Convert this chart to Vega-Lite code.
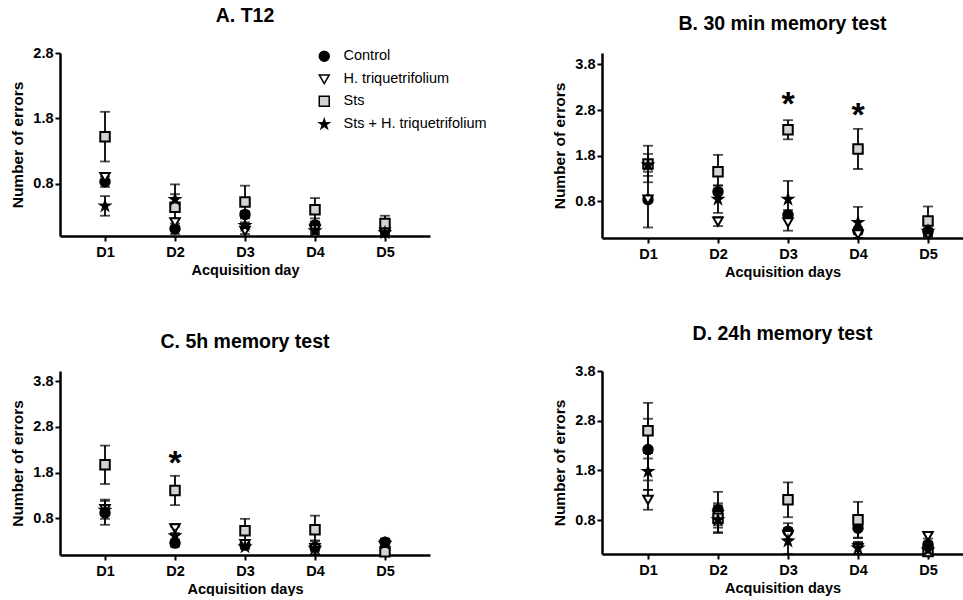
{
  "$schema": "https://vega.github.io/schema/vega-lite/v6.json",
  "background": "white",
  "padding": {"left": 10, "top": 5, "right": 0, "bottom": 0},
  "columns": 2,
  "spacing": {"row": 133, "column": 172},
  "bounds": "flush",
  "resolve": {
    "scale": {"x": "independent", "y": "independent", "shape": "independent", "fill": "independent"},
    "legend": {"shape": "independent", "fill": "independent"}
  },
  "datasets": {
    "means": [
      {"panel": "A", "day": 1, "group": "Control", "mean": 0.83, "err": 0.08},
      {"panel": "A", "day": 1, "group": "H. triquetrifolium", "mean": 0.90, "err": 0.05},
      {"panel": "A", "day": 1, "group": "Sts", "mean": 1.52, "err": 0.38},
      {"panel": "A", "day": 1, "group": "Sts + H. triquetrifolium", "mean": 0.46, "err": 0.15},
      {"panel": "A", "day": 2, "group": "Control", "mean": 0.11, "err": 0.08},
      {"panel": "A", "day": 2, "group": "H. triquetrifolium", "mean": 0.21, "err": 0.06},
      {"panel": "A", "day": 2, "group": "Sts", "mean": 0.44, "err": 0.35},
      {"panel": "A", "day": 2, "group": "Sts + H. triquetrifolium", "mean": 0.56, "err": 0.08},
      {"panel": "A", "day": 3, "group": "Control", "mean": 0.33, "err": 0.05},
      {"panel": "A", "day": 3, "group": "H. triquetrifolium", "mean": 0.08, "err": 0.05},
      {"panel": "A", "day": 3, "group": "Sts", "mean": 0.52, "err": 0.25},
      {"panel": "A", "day": 3, "group": "Sts + H. triquetrifolium", "mean": 0.16, "err": 0.05},
      {"panel": "A", "day": 4, "group": "Control", "mean": 0.17, "err": 0.10},
      {"panel": "A", "day": 4, "group": "H. triquetrifolium", "mean": 0.10, "err": 0.05},
      {"panel": "A", "day": 4, "group": "Sts", "mean": 0.40, "err": 0.18},
      {"panel": "A", "day": 4, "group": "Sts + H. triquetrifolium", "mean": 0.08, "err": 0.05},
      {"panel": "A", "day": 5, "group": "Control", "mean": 0.09, "err": 0.04},
      {"panel": "A", "day": 5, "group": "H. triquetrifolium", "mean": 0.05, "err": 0.03},
      {"panel": "A", "day": 5, "group": "Sts", "mean": 0.19, "err": 0.12},
      {"panel": "A", "day": 5, "group": "Sts + H. triquetrifolium", "mean": 0.05, "err": 0.03},

      {"panel": "B", "day": 1, "group": "Control", "mean": 0.84, "err": 0.61},
      {"panel": "B", "day": 1, "group": "H. triquetrifolium", "mean": 0.84, "err": 0.05},
      {"panel": "B", "day": 1, "group": "Sts", "mean": 1.62, "err": 0.40},
      {"panel": "B", "day": 1, "group": "Sts + H. triquetrifolium", "mean": 1.60, "err": 0.24},
      {"panel": "B", "day": 2, "group": "Control", "mean": 1.01, "err": 0.14},
      {"panel": "B", "day": 2, "group": "H. triquetrifolium", "mean": 0.36, "err": 0.10},
      {"panel": "B", "day": 2, "group": "Sts", "mean": 1.45, "err": 0.37},
      {"panel": "B", "day": 2, "group": "Sts + H. triquetrifolium", "mean": 0.85, "err": 0.30},
      {"panel": "B", "day": 3, "group": "Control", "mean": 0.51, "err": 0.10},
      {"panel": "B", "day": 3, "group": "H. triquetrifolium", "mean": 0.34, "err": 0.18},
      {"panel": "B", "day": 3, "group": "Sts", "mean": 2.37, "err": 0.21},
      {"panel": "B", "day": 3, "group": "Sts + H. triquetrifolium", "mean": 0.85, "err": 0.40},
      {"panel": "B", "day": 4, "group": "Control", "mean": 0.16, "err": 0.08},
      {"panel": "B", "day": 4, "group": "H. triquetrifolium", "mean": 0.08, "err": 0.08},
      {"panel": "B", "day": 4, "group": "Sts", "mean": 1.95, "err": 0.44},
      {"panel": "B", "day": 4, "group": "Sts + H. triquetrifolium", "mean": 0.34, "err": 0.34},
      {"panel": "B", "day": 5, "group": "Control", "mean": 0.14, "err": 0.06},
      {"panel": "B", "day": 5, "group": "H. triquetrifolium", "mean": 0.08, "err": 0.05},
      {"panel": "B", "day": 5, "group": "Sts", "mean": 0.37, "err": 0.32},
      {"panel": "B", "day": 5, "group": "Sts + H. triquetrifolium", "mean": 0.15, "err": 0.06},

      {"panel": "C", "day": 1, "group": "Control", "mean": 0.92, "err": 0.26},
      {"panel": "C", "day": 1, "group": "H. triquetrifolium", "mean": 1.00, "err": 0.21},
      {"panel": "C", "day": 1, "group": "Sts", "mean": 1.97, "err": 0.42},
      {"panel": "C", "day": 1, "group": "Sts + H. triquetrifolium", "mean": 0.98, "err": 0.10},
      {"panel": "C", "day": 2, "group": "Control", "mean": 0.26, "err": 0.08},
      {"panel": "C", "day": 2, "group": "H. triquetrifolium", "mean": 0.58, "err": 0.10},
      {"panel": "C", "day": 2, "group": "Sts", "mean": 1.41, "err": 0.32},
      {"panel": "C", "day": 2, "group": "Sts + H. triquetrifolium", "mean": 0.42, "err": 0.20},
      {"panel": "C", "day": 3, "group": "Control", "mean": 0.22, "err": 0.05},
      {"panel": "C", "day": 3, "group": "H. triquetrifolium", "mean": 0.24, "err": 0.06},
      {"panel": "C", "day": 3, "group": "Sts", "mean": 0.53, "err": 0.26},
      {"panel": "C", "day": 3, "group": "Sts + H. triquetrifolium", "mean": 0.18, "err": 0.05},
      {"panel": "C", "day": 4, "group": "Control", "mean": 0.17, "err": 0.15},
      {"panel": "C", "day": 4, "group": "H. triquetrifolium", "mean": 0.15, "err": 0.06},
      {"panel": "C", "day": 4, "group": "Sts", "mean": 0.55, "err": 0.31},
      {"panel": "C", "day": 4, "group": "Sts + H. triquetrifolium", "mean": 0.15, "err": 0.15},
      {"panel": "C", "day": 5, "group": "Control", "mean": 0.28, "err": 0.08},
      {"panel": "C", "day": 5, "group": "H. triquetrifolium", "mean": 0.22, "err": 0.05},
      {"panel": "C", "day": 5, "group": "Sts", "mean": 0.07, "err": 0.05},
      {"panel": "C", "day": 5, "group": "Sts + H. triquetrifolium", "mean": 0.25, "err": 0.10},

      {"panel": "D", "day": 1, "group": "Control", "mean": 2.22, "err": 0.62},
      {"panel": "D", "day": 1, "group": "H. triquetrifolium", "mean": 1.21, "err": 0.20},
      {"panel": "D", "day": 1, "group": "Sts", "mean": 2.60, "err": 0.56},
      {"panel": "D", "day": 1, "group": "Sts + H. triquetrifolium", "mean": 1.78, "err": 0.37},
      {"panel": "D", "day": 2, "group": "Control", "mean": 1.01, "err": 0.36},
      {"panel": "D", "day": 2, "group": "H. triquetrifolium", "mean": 0.90, "err": 0.20},
      {"panel": "D", "day": 2, "group": "Sts", "mean": 0.84, "err": 0.30},
      {"panel": "D", "day": 2, "group": "Sts + H. triquetrifolium", "mean": 0.81, "err": 0.25},
      {"panel": "D", "day": 3, "group": "Control", "mean": 0.58, "err": 0.16},
      {"panel": "D", "day": 3, "group": "H. triquetrifolium", "mean": 0.50, "err": 0.10},
      {"panel": "D", "day": 3, "group": "Sts", "mean": 1.21, "err": 0.35},
      {"panel": "D", "day": 3, "group": "Sts + H. triquetrifolium", "mean": 0.38, "err": 0.26},
      {"panel": "D", "day": 4, "group": "Control", "mean": 0.64, "err": 0.20},
      {"panel": "D", "day": 4, "group": "H. triquetrifolium", "mean": 0.24, "err": 0.12},
      {"panel": "D", "day": 4, "group": "Sts", "mean": 0.81, "err": 0.36},
      {"panel": "D", "day": 4, "group": "Sts + H. triquetrifolium", "mean": 0.24, "err": 0.12},
      {"panel": "D", "day": 5, "group": "Control", "mean": 0.31, "err": 0.05},
      {"panel": "D", "day": 5, "group": "H. triquetrifolium", "mean": 0.48, "err": 0.05},
      {"panel": "D", "day": 5, "group": "Sts", "mean": 0.17, "err": 0.05},
      {"panel": "D", "day": 5, "group": "Sts + H. triquetrifolium", "mean": 0.20, "err": 0.05}
    ],
    "sig": [
      {"panel": "B", "day": 3, "mean": 3.13, "label": "*"},
      {"panel": "B", "day": 4, "mean": 2.88, "label": "*"},
      {"panel": "C", "day": 2, "mean": 2.21, "label": "*"}
    ]
  },
  "concat": [
    {
      "width": 370, "height": 183,
      "title": {"text": "A. T12"},
      "data": {"name": "means"},
      "transform": [{"filter": "datum.panel === 'A'"}],
      "encoding": {
        "x": {"field": "day", "type": "quantitative", "scale": {"domain": [0.357, 5.643], "nice": false, "zero": false}, "axis": {"values": [1, 2, 3, 4, 5], "labelExpr": "'D' + datum.value", "title": "Acquisition day"}},
        "y": {"field": "mean", "type": "quantitative", "scale": {"domain": [0, 2.8], "nice": false, "zero": false}, "axis": {"values": [0.8, 1.8, 2.8], "format": ".1f", "title": "Number of errors"}}
      },
      "layer": [
        {"mark": {"type": "errorbar", "ticks": true, "color": "black", "thickness": 1.8, "size": 10}, "encoding": {"yError": {"field": "err"}}},
        {"mark": {"type": "point", "filled": true, "stroke": "black", "strokeWidth": 2, "size": 90, "opacity": 1},
         "encoding": {
           "shape": {"field": "group", "type": "nominal", "scale": {"domain": ["Control", "H. triquetrifolium", "Sts", "Sts + H. triquetrifolium"], "range": ["circle", "triangle-down", "square", "M0,-1L0.2245,-0.309L0.951,-0.309L0.363,0.118L0.588,0.809L0,0.382L-0.588,0.809L-0.363,0.118L-0.951,-0.309L-0.2245,-0.309Z"]},
             "legend": {"orient": "none", "legendX": 257, "legendY": -4, "title": null, "padding": 0, "labelFont": "Liberation Sans", "labelFontSize": 14.5, "labelFontWeight": "normal", "labelColor": "black", "rowPadding": 6, "labelOffset": 12, "symbolSize": 100,
               "encode": {"symbols": {"update": {"stroke": {"value": "black"}, "strokeWidth": {"value": 2}, "opacity": {"value": 1}}}}}},
           "fill": {"field": "group", "type": "nominal", "scale": {"domain": ["Control", "H. triquetrifolium", "Sts", "Sts + H. triquetrifolium"], "range": ["black", "white", "#d3d3d3", "black"]},
             "legend": {"orient": "none", "legendX": 257, "legendY": -4, "title": null, "padding": 0, "labelFont": "Liberation Sans", "labelFontSize": 14.5, "labelFontWeight": "normal", "labelColor": "black", "rowPadding": 6, "labelOffset": 12, "symbolSize": 100,
               "encode": {"symbols": {"update": {"stroke": {"value": "black"}, "strokeWidth": {"value": 2}, "opacity": {"value": 1}}}}}}
         }}
      ]
    },
    {
      "width": 361, "height": 185,
      "title": {"text": "B. 30 min memory test"},
      "data": {"name": "means"},
      "transform": [{"filter": "datum.panel === 'B'"}],
      "encoding": {
        "x": {"field": "day", "type": "quantitative", "scale": {"domain": [0.343, 5.5], "nice": false, "zero": false}, "axis": {"values": [1, 2, 3, 4, 5], "labelExpr": "'D' + datum.value", "title": "Acquisition days"}},
        "y": {"field": "mean", "type": "quantitative", "scale": {"domain": [0, 4.05], "nice": false, "zero": false}, "axis": {"values": [0.8, 1.8, 2.8, 3.8], "format": ".1f", "title": "Number of errors"}}
      },
      "layer": [
        {"mark": {"type": "errorbar", "ticks": true, "color": "black", "thickness": 1.8, "size": 10}, "encoding": {"yError": {"field": "err"}}},
        {"mark": {"type": "point", "filled": true, "stroke": "black", "strokeWidth": 2, "size": 90, "opacity": 1},
         "encoding": {
           "shape": {"field": "group", "type": "nominal", "scale": {"domain": ["Control", "H. triquetrifolium", "Sts", "Sts + H. triquetrifolium"], "range": ["circle", "triangle-down", "square", "M0,-1L0.2245,-0.309L0.951,-0.309L0.363,0.118L0.588,0.809L0,0.382L-0.588,0.809L-0.363,0.118L-0.951,-0.309L-0.2245,-0.309Z"]}, "legend": null},
           "fill": {"field": "group", "type": "nominal", "scale": {"domain": ["Control", "H. triquetrifolium", "Sts", "Sts + H. triquetrifolium"], "range": ["black", "white", "#d3d3d3", "black"]}, "legend": null}
         }},
        {"data": {"name": "sig"}, "transform": [{"filter": "datum.panel === 'B'"}],
         "mark": {"type": "text", "font": "Liberation Sans", "fontWeight": "bold", "fontSize": 34, "baseline": "alphabetic", "dy": 20, "color": "black"},
         "encoding": {"text": {"field": "label"}}}
      ]
    },
    {
      "width": 370, "height": 184,
      "title": {"text": "C. 5h memory test"},
      "data": {"name": "means"},
      "transform": [{"filter": "datum.panel === 'C'"}],
      "encoding": {
        "x": {"field": "day", "type": "quantitative", "scale": {"domain": [0.357, 5.643], "nice": false, "zero": false}, "axis": {"values": [1, 2, 3, 4, 5], "labelExpr": "'D' + datum.value", "title": "Acquisition days"}},
        "y": {"field": "mean", "type": "quantitative", "scale": {"domain": [0, 4.02], "nice": false, "zero": false}, "axis": {"values": [0.8, 1.8, 2.8, 3.8], "format": ".1f", "title": "Number of errors"}}
      },
      "layer": [
        {"mark": {"type": "errorbar", "ticks": true, "color": "black", "thickness": 1.8, "size": 10}, "encoding": {"yError": {"field": "err"}}},
        {"mark": {"type": "point", "filled": true, "stroke": "black", "strokeWidth": 2, "size": 90, "opacity": 1},
         "encoding": {
           "shape": {"field": "group", "type": "nominal", "scale": {"domain": ["Control", "H. triquetrifolium", "Sts", "Sts + H. triquetrifolium"], "range": ["circle", "triangle-down", "square", "M0,-1L0.2245,-0.309L0.951,-0.309L0.363,0.118L0.588,0.809L0,0.382L-0.588,0.809L-0.363,0.118L-0.951,-0.309L-0.2245,-0.309Z"]}, "legend": null},
           "fill": {"field": "group", "type": "nominal", "scale": {"domain": ["Control", "H. triquetrifolium", "Sts", "Sts + H. triquetrifolium"], "range": ["black", "white", "#d3d3d3", "black"]}, "legend": null}
         }},
        {"data": {"name": "sig"}, "transform": [{"filter": "datum.panel === 'C'"}],
         "mark": {"type": "text", "font": "Liberation Sans", "fontWeight": "bold", "fontSize": 34, "baseline": "alphabetic", "dy": 20, "color": "black"},
         "encoding": {"text": {"field": "label"}}}
      ]
    },
    {
      "width": 361, "height": 183,
      "title": {"text": "D. 24h memory test"},
      "data": {"name": "means"},
      "transform": [{"filter": "datum.panel === 'D'"}],
      "encoding": {
        "x": {"field": "day", "type": "quantitative", "scale": {"domain": [0.343, 5.5], "nice": false, "zero": false}, "axis": {"values": [1, 2, 3, 4, 5], "labelExpr": "'D' + datum.value", "title": "Acquisition days"}},
        "y": {"field": "mean", "type": "quantitative", "scale": {"domain": [0.12, 3.8], "nice": false, "zero": false}, "axis": {"values": [0.8, 1.8, 2.8, 3.8], "format": ".1f", "title": "Number of errors"}}
      },
      "layer": [
        {"mark": {"type": "errorbar", "ticks": true, "color": "black", "thickness": 1.8, "size": 10}, "encoding": {"yError": {"field": "err"}}},
        {"mark": {"type": "point", "filled": true, "stroke": "black", "strokeWidth": 2, "size": 90, "opacity": 1},
         "encoding": {
           "shape": {"field": "group", "type": "nominal", "scale": {"domain": ["Control", "H. triquetrifolium", "Sts", "Sts + H. triquetrifolium"], "range": ["circle", "triangle-down", "square", "M0,-1L0.2245,-0.309L0.951,-0.309L0.363,0.118L0.588,0.809L0,0.382L-0.588,0.809L-0.363,0.118L-0.951,-0.309L-0.2245,-0.309Z"]}, "legend": null},
           "fill": {"field": "group", "type": "nominal", "scale": {"domain": ["Control", "H. triquetrifolium", "Sts", "Sts + H. triquetrifolium"], "range": ["black", "white", "#d3d3d3", "black"]}, "legend": null}
         }}
      ]
    }
  ],
  "config": {
    "font": "Liberation Sans",
    "view": {"stroke": null},
    "axis": {
      "grid": false,
      "domainColor": "black", "domainWidth": 2.5,
      "tickColor": "black", "tickWidth": 2, "tickSize": 5,
      "labelFont": "Liberation Sans", "labelFontWeight": "bold", "labelFontSize": 14.5, "labelColor": "black",
      "titleFont": "Liberation Sans", "titleFontWeight": "bold", "titleFontSize": 14.5, "titleColor": "black"
    },
    "axisY": {"labelPadding": 2, "titlePadding": 7, "titleFontSize": 15.5},
    "axisX": {"labelPadding": 4, "titlePadding": 5},
    "title": {"fontSize": 19.5, "fontWeight": "bold", "color": "black", "offset": 19, "anchor": "middle", "frame": "group", "font": "Liberation Sans"}
  }
}
